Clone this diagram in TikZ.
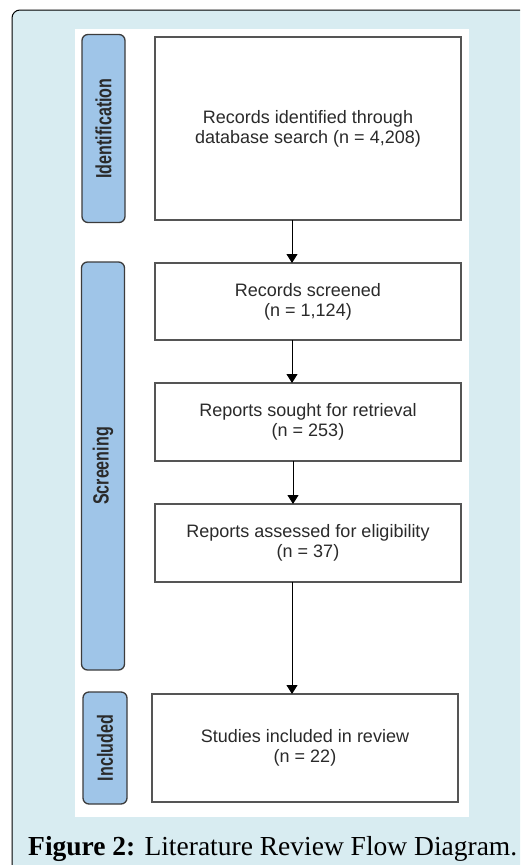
\documentclass[tikz,border=0pt]{standalone}
\usepackage{fontspec}
\setmainfont{Liberation Serif}
\setsansfont{Liberation Sans}
\newfontfamily\pillfont[FakeStretch=0.73]{Liberation Sans}
\usetikzlibrary{positioning,arrows.meta}
\definecolor{bgblue}{HTML}{D8ECF1}
\definecolor{pillblue}{HTML}{9FC5E8}
\definecolor{pillline}{HTML}{3C3C3C}
\definecolor{boxline}{HTML}{555555}
\definecolor{txtgray}{HTML}{2A2A2A}
\begin{document}
\begin{tikzpicture}[
            x=1pt,y=-1pt,
            node distance=43pt,
            box/.style={rectangle,draw=boxline,line width=1.3pt,fill=white,minimum width=306pt,align=center,outer sep=0pt,text=txtgray,font=\sffamily\fontsize{18}{20}\selectfont},
            pill/.style={rectangle,draw=pillline,fill=pillblue,rounded corners=6pt,line width=1.3pt,minimum width=43pt,outer sep=0pt,text=txtgray,font=\pillfont\bfseries\fontsize{22}{24}\selectfont},
            arrow/.style={-{Triangle[width=11pt,length=9pt]},line width=1pt}
        ]
            \clip (0,0) rectangle (520,865);
            \draw[fill=bgblue,rounded corners=8pt,line width=1pt] (12,10) rectangle (560,900);
            \fill[white] (75,29) rectangle (469,817);

            \node[box,minimum height=183pt] (identified) at (308,128.5) {Records identified through\\database search (n = 4,208)};
            \node[box,minimum height=77pt,below=of identified] (screened) {Records screened\\(n = 1,124)};
            \node[box,minimum height=78pt,below=of screened] (sought) {Reports sought for retrieval\\(n = 253)};
            \node[box,minimum height=78pt,below=of sought] (assessed) {Reports assessed for eligibility\\(n = 37)};
            \node[box,minimum height=108pt,below=112pt of assessed,xshift=-3pt] (included) {Studies included in review\\(n = 22)};

            \node[pill,minimum height=188pt,left=30pt of identified] (identpill) {\rotatebox{90}{Identification}};
            \node[pill,minimum height=408pt] (screenpill) at (103,466) {\rotatebox{90}{Screening}};
            \node[pill,minimum width=44pt,minimum height=112pt,left=25pt of included] (inclpill) {\rotatebox{90}{Included}};

            \draw[arrow] ([xshift=-16pt]identified.south) -- ([xshift=-16pt]screened.north);
            \draw[arrow] ([xshift=-16pt]screened.south) -- ([xshift=-16pt]sought.north);
            \draw[arrow] ([xshift=-15pt]sought.south) -- ([xshift=-15pt]assessed.north);
            \draw[arrow] ([xshift=-16pt]assessed.south) -- ([xshift=-16pt]assessed.south |- included.north);

            \node[anchor=base west,inner sep=0pt,font=\fontsize{27.5}{30}\selectfont] (caption) at (28,855) {\textbf{Figure 2:} Literature Review Flow Diagram.};
        \end{tikzpicture}
\end{document}
